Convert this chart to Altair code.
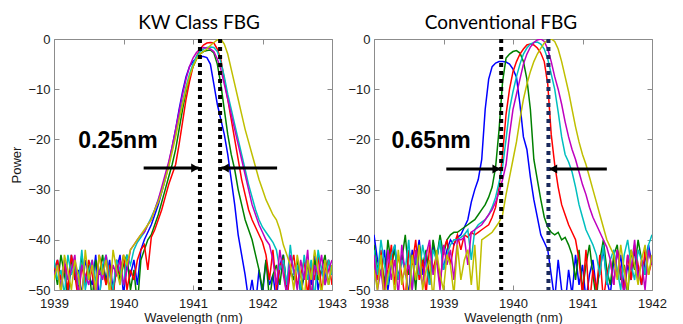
import altair as alt
import pandas as pd

STEP = 0.05
NAMES = ["blue", "green", "red", "cyan", "magenta", "yellow"]
COLORS = ["#0000FF", "#008000", "#FF0000", "#00BFBF", "#BF00BF", "#BFBF00"]

# ---------------- KW Class FBG (grid starts at 1939.00, step 0.05 nm) ----------------
KW_START = 1939.0
kw_blue_floor_l = [-47, -44, -50, -45, -52, -43, -48, -46, -51, -44, -47, -49, -43, -52, -45, -48, -44, -50, -46, -43, -51, -45, -47, -44, -49, -42]
kw_blue_band = [-40, -38.5, -37, -35, -33, -30.5, -28, -25, -21.5, -18, -14, -10.5, -7.5, -5.5, -4.5, -3.8, -3.5, -3.5, -3.7, -5, -9, -13, -16, -19, -23, -28, -33, -39, -43, -47, -52]
kw_blue_floor_r = [-48, -53, -46, -51, -44, -49, -47, -52, -45, -43, -50, -46, -48, -44, -51, -47, -45, -49, -43, -50, -46, -48, -44, -47]

kw_green_floor_l = [-45, -49, -43, -47, -51, -44, -46, -50, -43, -48, -45, -52, -44, -47, -43, -49, -46, -51, -44, -48, -45, -43, -50, -46, -53, -44]
kw_green_band = [-42, -40, -39, -37, -35, -32.5, -30, -27.5, -25, -22, -18, -14, -10.5, -7.5, -5.5, -4, -3, -2.5, -2.3, -2.2, -2.8, -5, -9, -14, -19, -23, -26, -30, -33, -36, -38, -40, -43]
kw_green_floor_r = [-46, -50, -44, -52, -47, -45, -49, -43, -51, -46, -48, -44, -50, -47, -45, -52, -44, -48, -46, -43, -49, -45]

kw_red_floor_l = [-46, -44, -48, -45, -50, -43, -47, -52, -45, -49, -44, -47, -51, -43, -46, -49, -45, -52, -44, -47, -43, -50, -46, -48, -44]
kw_red_band = [-42, -41, -46, -39.5, -38, -36, -34, -31.5, -29, -27, -25, -21, -16.5, -12, -8.5, -5.5, -3.5, -2, -1.2, -0.8, -0.7, -0.8, -2, -4, -8, -12, -16, -20, -24, -28, -31, -34, -36, -37.5, -39, -40.5]
kw_red_floor_r = [-43, -48, -42, -50, -45, -44, -52, -46, -43, -49, -47, -44, -51, -45, -48, -43, -50, -46, -44, -49]

kw_cyan_floor_l = [-44, -48, -46, -51, -43, -47, -45, -49, -42, -50, -46, -44, -48, -52, -45, -43, -47, -50, -44, -46, -49, -43, -45]
kw_cyan_band = [-42, -40.5, -39.5, -38.5, -37, -35.5, -34, -32, -30, -27.5, -25, -22, -19, -15.5, -12.5, -9.5, -7, -5, -3.5, -2.5, -2, -1.7, -1.6, -1.7, -2.5, -4.5, -7.5, -11, -14, -17, -20, -23, -26, -29, -31.5, -34, -36, -37.5, -38.5, -39.5, -40.5]
kw_cyan_floor_r = [-42, -46, -44, -49, -41, -47, -45, -50, -43, -48, -44, -52, -42, -46, -49, -44, -47]

kw_magenta_floor_l = [-47, -45, -50, -44, -48, -46, -43, -51, -45, -47, -49, -44, -52, -46, -48, -43, -50, -45, -47, -44, -49, -46, -42]
kw_magenta_band = [-41, -40, -39, -38.5, -37, -36, -34, -32, -29.5, -27, -24.5, -21.5, -18, -14.5, -11, -8, -5.5, -3.8, -2.7, -2, -1.7, -1.8, -2, -2.5, -4, -6, -9, -12, -15, -18, -21, -24, -27, -30, -33, -35, -37, -38.5, -40, -41]
kw_magenta_floor_r = [-44, -49, -42, -47, -51, -43, -46, -50, -44, -48, -42, -52, -45, -47, -43, -49, -46, -44]

kw_yellow_floor_l = [-48, -45, -51, -43, -46, -50, -44, -47, -52, -42, -48, -45, -50, -43, -47, -44, -51, -42, -46, -49, -43, -45]
kw_yellow_band = [-42, -41, -40, -39, -38, -37, -36, -34, -32.5, -30.5, -28, -25.5, -22.5, -19.5, -16, -13, -10, -7.5, -5.5, -4, -3, -2.5, -2, -1.3, -0.7, -0.2, 0, -1, -3, -6, -9, -12, -15, -18, -20.5, -23, -25.5, -28, -30, -32, -33.5, -35, -36, -38, -41, -43]
kw_yellow_floor_r = [-45, -50, -43, -47, -52, -44, -48, -42, -46, -51, -44, -49, -45]

# ---------------- Conventional FBG (grid starts at 1938.00, step 0.05 nm) ----------------
CV_START = 1938.0
cv_blue_floor_l = [-39, -44, -47, -42, -50, -45, -41, -48, -43, -46, -51, -42, -45, -40, -47, -43, -49, -41, -44, -40, -46, -42, -40, -41]
cv_blue_band = [-39.5, -39, -37.5, -36, -32.5, -30, -28, -24, -14, -8, -5.5, -4.8, -4.5, -4.5, -4.6, -5, -6, -7.6, -13, -19.5, -22, -27.5, -32, -35.5, -39, -40.5, -42]
cv_blue_floor_r = [-47, -52, -44, -50, -53, -46, -51, -43, -49, -45, -52, -47, -44, -50, -46, -42, -48, -51, -44, -47, -43, -50, -45, -48, -42, -46, -49, -44, -41, -45]

cv_green_floor_l = [-41, -46, -43, -49, -40, -45, -42, -48, -44, -39, -47, -43, -50, -41, -45, -42, -48, -40, -44, -39, -43, -40]
cv_green_band = [-39, -38.5, -38.5, -38, -37.5, -37, -36.5, -36, -35, -34, -33, -31.5, -29.5, -25.5, -18, -8.5, -3.8, -3, -2.5, -2.3, -2.8, -4.5, -8, -14, -24, -28, -32, -35.5, -37.5, -38.5, -39, -38.5, -40, -39.5, -41]
cv_green_floor_r = [-43, -48, -42, -50, -45, -41, -47, -52, -44, -40, -46, -49, -43, -41, -48, -45, -51, -42, -46, -40, -44, -47, -42, -45]

cv_red_floor_l = [-44, -48, -42, -50, -46, -41, -49, -43, -47, -52, -42, -45, -40, -48, -44, -51, -41, -46, -43, -49, -42, -40, -45, -41, -39, -42]
cv_red_band = [-39, -39.5, -38.5, -39, -38.5, -38, -37.5, -37, -35.5, -33.5, -29.5, -23, -15, -10, -6.5, -4.5, -3, -2, -1.2, -1, -1.2, -1.8, -2.8, -4.5, -9, -19, -25, -29.5, -33, -35, -37, -38.5, -40]
cv_red_floor_r = [-44, -51, -42, -53, -46, -50, -43, -52, -47, -44, -49, -42, -46, -50, -43, -48, -41, -45, -49, -42, -47, -44]

cv_cyan_floor_l = [-42, -47, -40, -45, -49, -43, -41, -48, -44, -46, -40, -50, -43, -47, -41, -45, -49, -42, -44, -40, -46, -43, -41, -40]
cv_cyan_band = [-40, -39.5, -39, -38, -44, -38, -37, -36.5, -36, -35, -33.5, -31.5, -28.5, -25.5, -20, -14, -10.5, -7.5, -5, -3, -1.8, -1, -0.7, -0.6, -1, -2, -4, -7, -10, -14.5, -19.5, -23, -24.5, -26.5, -29.5, -33, -35.5, -38, -39.5, -41]
cv_cyan_floor_r = [-43, -47, -41, -49, -44, -42, -46, -50, -43, -40, -45, -48, -42, -44, -47, -41, -39]

cv_magenta_floor_l = [-43, -50, -46, -52, -42, -48, -44, -51, -41, -47, -45, -50, -42, -46, -49, -43, -40, -47, -44, -50, -41, -45, -42, -48, -40]
cv_magenta_band = [-40, -39.5, -45, -38.5, -38, -37.5, -37, -36, -35, -34, -32.5, -30.5, -28, -25, -19, -14, -11, -8, -5, -3, -1.6, -0.7, -0.2, 0, -0.5, -2, -4.5, -7.5, -10, -13, -16.5, -19.5, -22, -24, -26.5, -29, -31, -33.5, -35.5, -37, -38.5, -40, -41.5]
cv_magenta_floor_r = [-44, -49, -42, -47, -51, -43, -46, -40, -48, -44, -50, -42, -45]

cv_yellow_floor_l = [-46, -50, -43, -52, -47, -44, -51, -42, -49, -45, -53, -43, -48, -41, -50, -46, -44, -52, -42, -47, -50, -43, -45, -51, -41, -48, -44]
cv_yellow_band = [-42, -49, -41, -52, -40, -39.5, -39, -38.5, -37.5, -36.5, -35, -31, -27.5, -24, -20.5, -16, -12, -9, -6.5, -4.5, -3, -1.8, -0.8, -0.2, 0, -0.5, -2, -4.5, -7.5, -10.5, -14, -17.5, -20.5, -23, -25, -27.5, -30, -32.5, -35, -37.5, -40, -41.5]
cv_yellow_floor_r = [-43, -48, -41, -46, -50, -42, -45, -49, -44, -41, -47, -43]

# ---------------- annotations ----------------
kw_ticks = [1939, 1940, 1941, 1942, 1943]
cv_ticks = [1938, 1939, 1940, 1941, 1942]
y_ticks = [0, -10, -20, -30, -40, -50]

kw_markers = [1941.10, 1941.39]
kw_marker_colors = ["#000000", "#000000"]
cv_markers = [1939.83, 1940.51]
cv_marker_colors = ["#000000", "#1b2a5c"]

# arrows: start x, tip x, y
kw_arrows = [(1940.29, 1941.08, -25.7), (1942.21, 1941.41, -25.7)]
cv_arrows = [(1939.04, 1939.81, -25.9), (1941.35, 1940.53, -25.9)]

kw_label = ("0.25nm", 1939.35, -20.4)
cv_label = ("0.65nm", 1938.25, -20.4)

FONT = "Liberation Sans"


def curves_df(start, series):
    rows = []
    for order, (name, vals) in enumerate(zip(NAMES, series)):
        for k, v in enumerate(vals):
            rows.append({"wl": round(start + STEP * k, 3), "p": v, "curve": name, "o": order})
    return pd.DataFrame(rows)


def panel(df, domain, ticks, markers, marker_colors, arrows, label, title, title_dx, ytitle):
    xs = alt.Scale(domain=domain, nice=False, zero=False)
    ys = alt.Scale(domain=[-50, 0], nice=False, zero=False)
    axis_common = dict(grid=False, domain=False, tickSize=5, offset=-5, tickColor="#8c8c8c",
                       tickWidth=1)
    bottom = alt.Axis(orient="bottom", values=ticks, format="d", labelFont=FONT, labelFontSize=13,
                      labelColor="#1a1a1a", labelPadding=7, labelFlush=False,
                      titleFont=FONT, titleFontSize=13, titleFontWeight="normal",
                      titleColor="#1a1a1a", titlePadding=1, **axis_common)
    left = alt.Axis(orient="left", values=y_ticks, format="d", labelFont=FONT, labelFontSize=13,
                    labelColor="#1a1a1a", labelPadding=4,
                    titleFont=FONT, titleFontSize=13, titleFontWeight="normal",
                    titleColor="#1a1a1a", titlePadding=4, **axis_common)
    top = alt.Axis(orient="top", values=ticks, labels=False, **axis_common)
    right = alt.Axis(orient="right", values=y_ticks, labels=False, **axis_common)

    lines = alt.Chart(df).mark_line(strokeWidth=1.5, clip=True).encode(
        x=alt.X("wl:Q", scale=xs, axis=bottom, title="Wavelength (nm)"),
        y=alt.Y("p:Q", scale=ys, axis=left, title=ytitle),
        color=alt.Color("curve:N", scale=alt.Scale(domain=NAMES, range=COLORS), legend=None),
    )

    mdf = pd.DataFrame({"x": markers, "c": marker_colors})
    rules = alt.Chart(mdf).mark_rule(strokeWidth=4, strokeDash=[4, 4]).encode(
        x=alt.X("x:Q", scale=xs, axis=None),
        color=alt.Color("c:N", scale=None),
    )

    adf = pd.DataFrame({"x": [a[0] for a in arrows], "x2": [a[1] for a in arrows],
                        "y": [a[2] for a in arrows]})
    arrow_lines = alt.Chart(adf).mark_rule(strokeWidth=3, color="black").encode(
        x=alt.X("x:Q", scale=xs, axis=top, title=None),
        x2="x2:Q",
        y=alt.Y("y:Q", scale=ys, axis=right, title=None),
    )
    hdf = pd.DataFrame({
        "hx": [a[1] - 0.05 if a[1] > a[0] else a[1] + 0.05 for a in arrows],
        "y": [a[2] for a in arrows],
        "shape": ["triangle-right" if a[1] > a[0] else "triangle-left" for a in arrows],
    })
    heads = alt.Chart(hdf).mark_point(filled=True, opacity=1, size=80, color="black").encode(
        x=alt.X("hx:Q", scale=xs, axis=None),
        y=alt.Y("y:Q", scale=ys, axis=None),
        shape=alt.Shape("shape:N", scale=None),
    )

    tdf = pd.DataFrame({"t": [label[0]], "x": [label[1]], "y": [label[2]]})
    txt = alt.Chart(tdf).mark_text(align="left", baseline="middle", font=FONT, fontSize=23,
                                   fontWeight="bold", color="black").encode(
        x=alt.X("x:Q", scale=xs, axis=None),
        y=alt.Y("y:Q", scale=ys, axis=None),
        text="t:N",
    )

    return alt.layer(lines, rules, arrow_lines, heads, txt).resolve_axis(
        x="independent", y="independent"
    ).properties(
        width=278, height=251,
        title=alt.TitleParams(text=title, font="Lato", fontSize=19, fontWeight="normal",
                              color="black", anchor="middle", offset=0, dx=title_dx),
    )


kw_df = curves_df(KW_START, [
    kw_blue_floor_l + kw_blue_band + kw_blue_floor_r,
    kw_green_floor_l + kw_green_band + kw_green_floor_r,
    kw_red_floor_l + kw_red_band + kw_red_floor_r,
    kw_cyan_floor_l + kw_cyan_band + kw_cyan_floor_r,
    kw_magenta_floor_l + kw_magenta_band + kw_magenta_floor_r,
    kw_yellow_floor_l + kw_yellow_band + kw_yellow_floor_r,
])
cv_df = curves_df(CV_START, [
    cv_blue_floor_l + cv_blue_band + cv_blue_floor_r,
    cv_green_floor_l + cv_green_band + cv_green_floor_r,
    cv_red_floor_l + cv_red_band + cv_red_floor_r,
    cv_cyan_floor_l + cv_cyan_band + cv_cyan_floor_r,
    cv_magenta_floor_l + cv_magenta_band + cv_magenta_floor_r,
    cv_yellow_floor_l + cv_yellow_band + cv_yellow_floor_r,
])

left_panel = panel(kw_df, [1939, 1943], kw_ticks, kw_markers, kw_marker_colors, kw_arrows,
                   kw_label, "KW Class FBG", 6, "Power")
right_panel = panel(cv_df, [1938, 1942], cv_ticks, cv_markers, cv_marker_colors, cv_arrows,
                    cv_label, "Conventional FBG", -12, None)

chart = alt.hconcat(left_panel, right_panel, spacing=42, bounds="flush").configure_view(
    stroke="#8c8c8c", strokeWidth=1
).properties(padding={"left": 2, "top": 5, "right": 5, "bottom": 0}, background="white")

chart.save("out.html", embed_options={"renderer": "svg", "actions": False})
